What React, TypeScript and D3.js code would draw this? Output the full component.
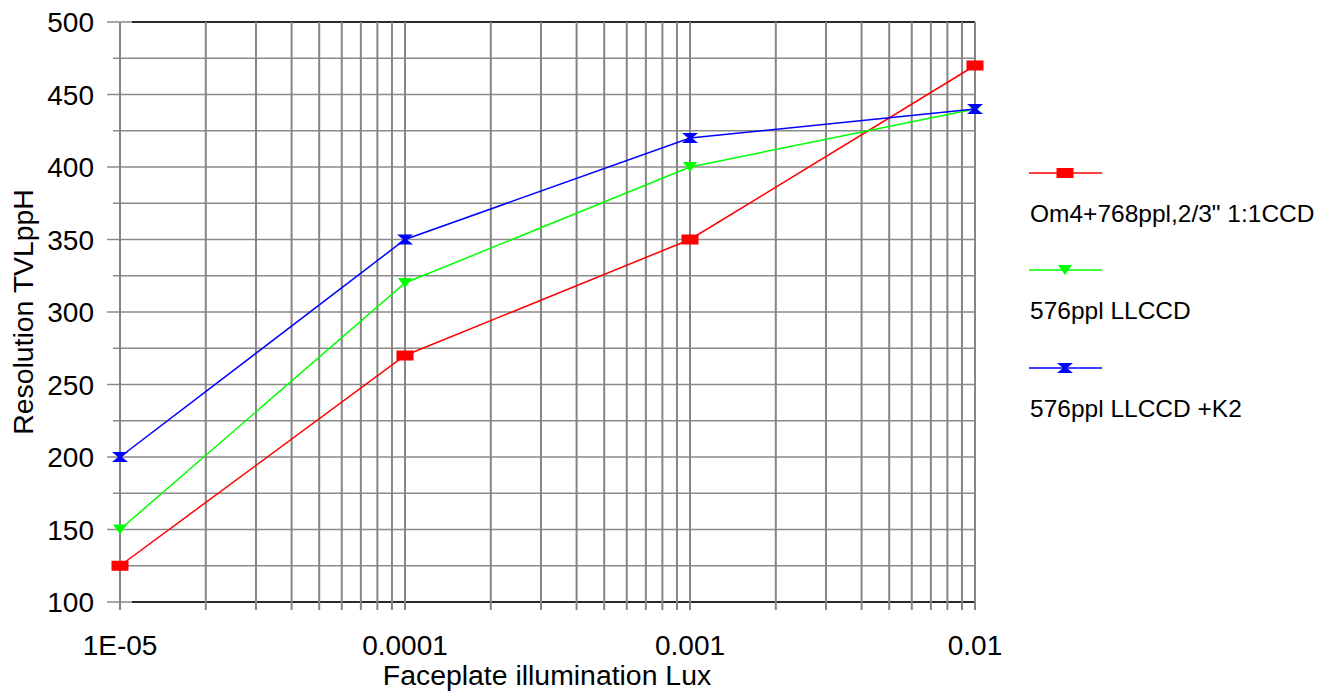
import React from "react";
import * as d3 from "d3";

const xValues = [1e-5, 1e-4, 1e-3, 1e-2];
const xTickLabels = ["1E-05", "0.0001", "0.001", "0.01"];
const seriesNames = ['Om4+768ppl,2/3" 1:1CCD', "576ppl LLCCD", "576ppl LLCCD +K2"];
const redValues = [125, 270, 350, 470];
const greenValues = [150, 320, 400, 440];
const blueValues = [200, 350, 420, 440];
const seriesColors = ["#ff0000", "#00ff00", "#0000ff"];
const yTicks = [100, 150, 200, 250, 300, 350, 400, 450, 500];

const W = 1329, H = 695;
const left = 120, right = 975, top = 22, bottom = 602;

function Marker({ kind, x, y, color }: { kind: number; x: number; y: number; color: string }) {
  if (kind === 0) return <rect x={x - 8.5} y={y - 5} width={17} height={10} fill={color} />;
  if (kind === 1) return <path d={`M${x - 7},${y - 5}L${x + 7},${y - 5}L${x},${y + 5}Z`} fill={color} />;
  return (
    <path
      d={`M${x - 8},${y - 5}L${x + 8},${y - 5}L${x + 2},${y}L${x + 8},${y + 5}L${x - 8},${y + 5}L${x - 2},${y}Z`}
      fill={color}
    />
  );
}

export default function App() {
  const x = d3.scaleLog().domain([1e-5, 1e-2]).range([left, right]);
  const y = d3.scaleLinear().domain([100, 500]).range([bottom, top]);
  const series = [redValues, greenValues, blueValues];
  const vGrid: number[] = [];
  for (let e = -5; e < -2; e++) for (let m = 1; m < 10; m++) vGrid.push(m * Math.pow(10, e));
  vGrid.push(1e-2);
  const hGrid = d3.range(100, 501, 25);
  const line = d3.line<number>().x((_, i) => x(xValues[i])).y((d) => y(d));
  const font = "'Liberation Sans', Arial, sans-serif";
  const legendY = [173, 270, 368];
  return (
    <svg width={W} height={H} style={{ position: "absolute", left: 0, top: 0, background: "#fff" }}>
      {hGrid.map((v) => (
        <line key={"h" + v} x1={v % 50 === 0 ? left - 13 : left - 7} x2={right} y1={y(v)} y2={y(v)} stroke="#8a8a8a" strokeWidth={1.5} />
      ))}
      <line x1={left + 12} x2={right} y1={y(500)} y2={y(500)} stroke="#000" strokeWidth={1.5} />
      <line x1={left + 12} x2={right} y1={y(100)} y2={y(100)} stroke="#000" strokeWidth={1.5} />
      {vGrid.map((v, i) => (
        <line key={"v" + i} x1={x(v)} x2={x(v)} y1={top} y2={bottom + 8} stroke="#858585" strokeWidth={2} />
      ))}
      {yTicks.map((v) => (
        <text key={"yt" + v} x={94} y={y(v) + 10} textAnchor="end" fontFamily={font} fontSize={28}>
          {v}
        </text>
      ))}
      {xValues.map((v, i) => (
        <text key={"xt" + i} x={x(v)} y={655} textAnchor="middle" fontFamily={font} fontSize={28}>
          {xTickLabels[i]}
        </text>
      ))}
      <text x={547} y={685} textAnchor="middle" fontFamily={font} fontSize={28.4}>
        Faceplate illumination Lux
      </text>
      <text transform="translate(33,312) rotate(-90)" textAnchor="middle" fontFamily={font} fontSize={28.4}>
        Resolution TVLppH
      </text>
      {series.map((s, k) => (
        <g key={"s" + k}>
          <path d={line(s) || ""} fill="none" stroke={seriesColors[k]} strokeWidth={1.5} />
          {s.map((v, i) => (
            <Marker key={i} kind={k} x={x(xValues[i])} y={y(v)} color={seriesColors[k]} />
          ))}
        </g>
      ))}
      {seriesNames.map((n, k) => (
        <g key={"l" + k}>
          <line x1={1029} x2={1102} y1={legendY[k]} y2={legendY[k]} stroke={seriesColors[k]} strokeWidth={1.5} />
          <Marker kind={k} x={1065} y={legendY[k]} color={seriesColors[k]} />
          <text x={1030} y={legendY[k] + 49} fontFamily={font} fontSize={24.5}>
            {n}
          </text>
        </g>
      ))}
    </svg>
  );
}
